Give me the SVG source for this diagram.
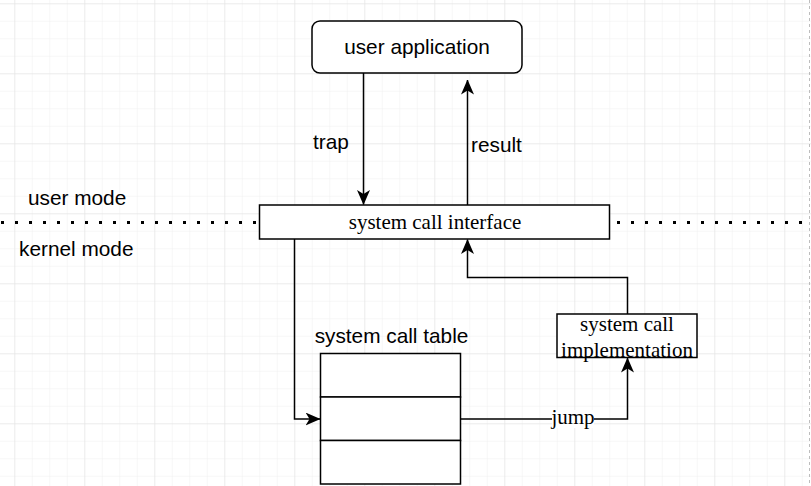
<svg xmlns="http://www.w3.org/2000/svg" width="811" height="486" viewBox="0 0 811 486">
<defs>
<pattern id="minor" x="14.3" y="3.3" width="17.5" height="17.5" patternUnits="userSpaceOnUse">
<path d="M0 0H17.5M0 0V17.5" fill="none" stroke="#f0f0f0" stroke-width="1"/>
</pattern>
<pattern id="major" x="14.3" y="3.3" width="70" height="70" patternUnits="userSpaceOnUse">
<path d="M0 0H70M0 0V70" fill="none" stroke="#e2e2e2" stroke-width="1"/>
</pattern>
<marker id="arr" viewBox="0 0 15 13" refX="14.5" refY="6.5" markerWidth="15" markerHeight="13" markerUnits="userSpaceOnUse" orient="auto">
<path d="M0 0L15 6.5L0 13L4 6.5Z" fill="#000"/>
</marker>
<style>
.box{fill:#fff;stroke:#000;stroke-width:1.5}
.edge{fill:none;stroke:#000;stroke-width:1.5}
.sans{font-family:"Liberation Sans",Arial,sans-serif;font-size:20.8px;fill:#000}
.serif{font-family:"Liberation Serif","Times New Roman",serif;font-size:21px;fill:#000}
</style>
</defs>
<rect width="811" height="486" fill="#fff"/>
<rect width="811" height="486" fill="url(#minor)"/>
<rect width="811" height="486" fill="url(#major)"/>
<line x1="809.5" y1="0" x2="809.5" y2="486" stroke="#bdbdbd" stroke-width="1" stroke-dasharray="3 3"/>
<g id="mode-divider">
<line x1="1" y1="222.5" x2="811" y2="222.5" stroke="#000" stroke-width="3" stroke-dasharray="3 11"/>
</g>
<g id="connectors">
<line class="edge" x1="363.5" y1="73" x2="363.5" y2="204.5" marker-end="url(#arr)"/>
<line class="edge" x1="467.5" y1="205" x2="467.5" y2="80" marker-end="url(#arr)"/>
<polyline class="edge" points="294.5,239 294.5,419 320,419" marker-end="url(#arr)"/>
<polyline class="edge" points="461,419 627.5,419 627.5,358" marker-end="url(#arr)"/>
<polyline class="edge" points="627.5,314 627.5,277.5 467.5,277.5 467.5,239.5" marker-end="url(#arr)"/>
<text class="sans" x="313" y="148.5">trap</text>
<text class="sans" x="471" y="151.5">result</text>
<rect x="552" y="410" width="42" height="18" fill="#fff"/>
<text class="serif" x="573" y="423.5" text-anchor="middle">jump</text>
</g>
<g id="user-application">
<rect class="box" x="312" y="21" width="210" height="52" rx="8"/>
<text class="sans" x="417" y="54.3" text-anchor="middle" font-size="22">user application</text>
</g>
<g id="system-call-interface">
<rect class="box" x="259.5" y="205" width="350" height="34"/>
<text class="serif" x="435" y="229" text-anchor="middle">system call interface</text>
</g>
<g id="labels">
<text class="sans" x="28" y="205">user mode</text>
<text class="sans" x="19" y="256">kernel mode</text>
</g>
<g id="system-call-table">
<text class="sans" x="391.5" y="342.7" text-anchor="middle" font-size="22.5">system call table</text>
<rect class="box" x="320.5" y="353.5" width="140" height="43.5"/>
<rect class="box" x="320.5" y="397" width="140" height="43.5"/>
<rect class="box" x="320.5" y="440.5" width="140" height="43.5"/>
</g>
<g id="system-call-implementation">
<rect class="box" x="557" y="314" width="140" height="43.5"/>
<text class="serif" x="627" y="330.7" text-anchor="middle" font-size="21.5">system call</text>
<text class="serif" x="627" y="356.7" text-anchor="middle" font-size="21.5">implementation</text>
</g>
</svg>
